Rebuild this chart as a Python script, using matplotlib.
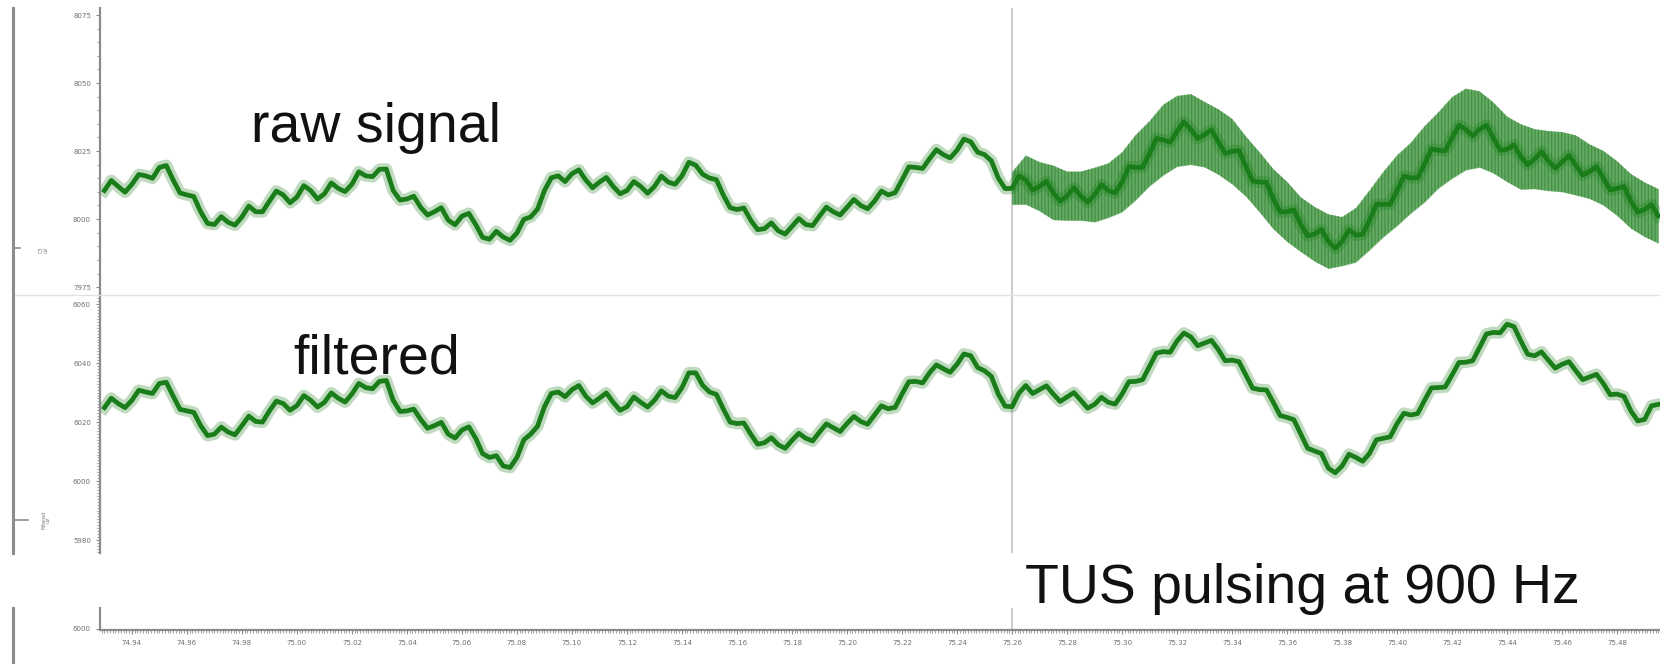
import numpy as np
import matplotlib.pyplot as plt
from matplotlib.lines import Line2D
from matplotlib.ticker import MultipleLocator, FormatStrFormatter

# ---------- Data ----------

t_start = 74.930   # s, first sample shown
t_step = 0.0025    # s between samples
t_onset = 75.26    # s, TUS onset marker

# raw trace (uV)
raw_uv = [8010.5, 8014.2, 8012.0, 8009.9, 8012.8, 8016.4, 8015.9, 8015.0, 8019.0, 8019.7,
          8014.4, 8009.6, 8008.9, 8008.3, 8002.7, 7998.4, 7998.0, 8000.9, 7998.8, 7997.8,
          8000.8, 8004.8, 8002.7, 8002.7, 8006.6, 8010.3, 8008.9, 8006.0, 8008.1, 8012.3,
          8010.5, 8007.4, 8009.3, 8013.3, 8011.3, 8010.1, 8012.8, 8017.4, 8015.9, 8015.6,
          8018.3, 8018.4, 8010.5, 8007.0, 8007.4, 8008.4, 8004.3, 8001.5, 8002.7, 8004.2,
          7999.6, 7997.9, 8001.1, 8002.1, 7998.0, 7993.3, 7992.6, 7995.5, 7993.4, 7992.2,
          7994.9, 7999.9, 8000.8, 8003.7, 8010.5, 8015.2, 8015.9, 8013.8, 8016.7, 8018.1,
          8014.4, 8011.5, 8013.6, 8015.3, 8012.0, 8009.3, 8010.5, 8013.8, 8012.0, 8009.5,
          8012.0, 8015.8, 8013.6, 8012.8, 8015.9, 8020.9, 8019.8, 8016.5, 8015.1, 8014.5,
          8008.9, 8004.2, 8003.5, 8004.1, 7999.6, 7996.1, 7996.5, 7998.6, 7995.7, 7994.5,
          7997.3, 8000.2, 7998.0, 7997.6, 8001.1, 8004.4, 8002.7, 8001.5, 8004.3, 8007.2,
          8005.0, 8003.8, 8006.6, 8010.3, 8008.9, 8009.7, 8014.4, 8019.2, 8019.0, 8018.6,
          8022.2, 8025.5, 8023.7, 8022.5, 8025.3, 8029.4, 8028.4, 8024.6, 8023.7, 8021.4,
          8015.1, 8011.2, 8011.3, 8015.9, 8014.4, 8010.7, 8012.0, 8013.9, 8009.7, 8006.6,
          8008.5, 8011.5, 8008.5, 8006.2, 8008.9, 8012.7, 8010.5, 8009.6, 8013.6, 8019.3,
          8019.0, 8019.1, 8024.1, 8029.6, 8029.1, 8028.2, 8032.3, 8035.7, 8033.0, 8029.6,
          8031.1, 8032.8, 8028.4, 8024.2, 8024.9, 8025.2, 8019.4, 8014.0, 8013.6, 8013.5,
          8007.4, 8002.6, 8002.7, 8003.4, 7998.0, 7993.8, 7994.5, 7996.2, 7991.8, 7989.3,
          7991.8, 7996.0, 7994.1, 7994.4, 7999.6, 8005.5, 8005.4, 8005.5, 8010.5, 8015.8,
          8015.1, 8015.2, 8020.2, 8025.8, 8025.3, 8025.1, 8029.9, 8034.5, 8033.0, 8030.5,
          8033.0, 8034.5, 8029.9, 8025.3, 8025.7, 8027.3, 8022.9, 8020.0, 8022.1, 8024.8,
          8021.4, 8018.7, 8021.0, 8023.4, 8019.8, 8016.2, 8017.5, 8019.3, 8015.1, 8010.7,
          8011.3, 8012.0, 8006.6, 8002.6, 8003.5, 8005.3, 8001.1]

# 900 Hz artefact envelope on the raw trace, every 5 ms from onset (uV)
band_step = 0.005
band_hi = [8017.3, 8023.4, 8021.0, 8019.7, 8017.5, 8017.5, 8018.9, 8020.5, 8024.6, 8031.0,
           8036.1, 8042.1, 8045.3, 8046.0, 8043.1, 8040.4, 8036.9, 8030.4, 8024.6, 8018.4,
           8013.7, 8008.0, 8004.5, 8001.8, 8000.8, 8004.1, 8010.6, 8017.4, 8023.5, 8028.1,
           8034.2, 8039.3, 8044.9, 8048.0, 8047.0, 8042.9, 8037.7, 8034.9, 8033.1, 8032.4,
           8032.0, 8030.8, 8027.5, 8025.1, 8021.3, 8016.6, 8013.5, 8011.1]
band_lo = [8005.3, 8005.4, 8003.0, 7999.7, 7999.5, 7999.5, 7998.9, 8000.5, 8002.6, 8007.0,
           8012.1, 8016.1, 8019.3, 8020.0, 8019.1, 8016.4, 8012.9, 8008.4, 8002.6, 7996.4,
           7991.7, 7988.0, 7984.5, 7981.8, 7982.8, 7984.1, 7988.6, 7993.4, 7997.5, 8002.1,
           8006.2, 8011.3, 8014.9, 8018.0, 8019.0, 8016.9, 8013.7, 8010.9, 8011.1, 8010.4,
           8010.0, 8008.8, 8007.5, 8005.1, 8001.3, 7996.6, 7993.5, 7991.1]

# filtered trace (uV)
filt_uv = [6024.9, 6028.1, 6026.3, 6024.9, 6027.4, 6030.8, 6030.2, 6029.7, 6033.1, 6033.5,
           6028.8, 6024.3, 6023.8, 6023.3, 6018.8, 6015.4, 6015.9, 6018.3, 6016.6, 6015.7,
           6018.8, 6022.0, 6020.2, 6020.0, 6023.8, 6027.1, 6026.3, 6024.0, 6025.6, 6029.0,
           6027.4, 6025.1, 6026.7, 6029.9, 6028.1, 6026.8, 6029.5, 6033.1, 6031.7, 6031.3,
           6033.8, 6034.1, 6027.4, 6023.6, 6023.8, 6024.4, 6020.9, 6017.9, 6018.8, 6019.9,
           6015.9, 6014.6, 6017.3, 6018.4, 6014.5, 6009.3, 6008.0, 6008.6, 6005.1, 6004.6,
           6008.0, 6014.0, 6015.9, 6018.6, 6025.2, 6029.7, 6030.2, 6028.6, 6031.0, 6032.4,
           6028.8, 6026.5, 6028.1, 6029.9, 6026.7, 6024.0, 6025.2, 6028.5, 6026.7, 6025.1,
           6027.4, 6030.6, 6028.8, 6028.3, 6031.7, 6036.7, 6036.7, 6032.5, 6030.2, 6029.4,
           6024.5, 6020.0, 6019.5, 6019.7, 6015.9, 6012.5, 6013.0, 6014.7, 6012.3, 6011.1,
           6013.8, 6016.2, 6014.5, 6013.6, 6016.6, 6019.4, 6018.1, 6016.8, 6019.5, 6021.9,
           6020.2, 6019.3, 6022.4, 6025.5, 6024.5, 6025.0, 6029.5, 6033.7, 6033.8, 6033.3,
           6036.7, 6039.4, 6038.1, 6036.9, 6039.6, 6043.1, 6042.5, 6038.5, 6037.4, 6035.5,
           6029.5, 6025.4, 6025.2, 6029.8, 6032.4, 6029.7, 6031.0, 6032.3, 6029.5, 6027.0,
           6028.5, 6030.0, 6027.4, 6024.7, 6026.0, 6028.4, 6026.7, 6026.1, 6029.5, 6033.7,
           6033.8, 6034.4, 6038.9, 6043.4, 6043.9, 6043.7, 6047.5, 6050.2, 6048.9, 6045.9,
           6046.8, 6047.7, 6044.6, 6040.8, 6041.0, 6040.5, 6036.0, 6031.5, 6031.0, 6030.9,
           6026.7, 6022.2, 6021.6, 6020.8, 6015.9, 6011.1, 6010.2, 6009.3, 6004.4, 6002.8,
           6005.1, 6009.1, 6008.0, 6006.7, 6009.4, 6014.0, 6014.5, 6015.0, 6019.5, 6023.0,
           6022.4, 6022.9, 6027.4, 6031.6, 6031.7, 6031.9, 6036.0, 6040.2, 6040.3, 6040.8,
           6045.3, 6049.9, 6050.4, 6050.3, 6053.2, 6052.4, 6047.5, 6043.0, 6042.5, 6043.8,
           6041.0, 6038.3, 6039.6, 6040.5, 6037.4, 6034.4, 6035.3, 6036.2, 6033.1, 6029.3,
           6029.5, 6028.7, 6023.8, 6020.4, 6020.9, 6025.5, 6026.0]

raw_ticks = [7975, 8000, 8025, 8050, 8075]
filt_ticks = [5980, 6000, 6020, 6040, 6060]

# ---------- Plot ----------

W, H = 1660, 664
green = '#197d19'
axis_grey = '#8c8c8c'
marker_grey = '#cfcfcf'

t = t_start + t_step*np.arange(len(raw_uv))
t_band = t_onset + band_step*np.arange(len(band_hi))
raw = np.array(raw_uv)
filt = np.array(filt_uv)

def px(x0, y0, x1, y1):  # pixel box -> figure fraction rect
    return [x0/W, 1 - y1/H, (x1 - x0)/W, (y1 - y0)/H]

fig = plt.figure(figsize=(W/100, H/100), dpi=100)
ax_raw = fig.add_axes(px(100, 8, W, 295))
ax_filt = fig.add_axes(px(100, 295, W, 553))
ax_time = fig.add_axes(px(100, 608, W, 630))

xlim = (74.9284, 75.4956)
for ax in (ax_raw, ax_filt, ax_time):
    ax.set_xlim(*xlim)
    for s in ax.spines.values():
        s.set_visible(False)
    ax.spines['left'].set_visible(True)
    ax.spines['left'].set_color(axis_grey)
    ax.spines['left'].set_linewidth(1.6)
    ax.tick_params(axis='both', colors=axis_grey, labelcolor='#6e6e6e', labelsize=5,
                   length=3, width=0.8)
    ax.tick_params(axis='x', bottom=False, labelbottom=False)
    ax.tick_params(which='minor', length=2, width=0.6, colors=axis_grey)
    ax.axvline(t_onset, color=marker_grey, lw=1.6, zorder=0)

# raw signal
ax_raw.set_ylim(7972.1, 8077.6)
ax_raw.set_yticks(raw_ticks)
ax_raw.yaxis.set_minor_locator(MultipleLocator(5))
ax_raw.fill_between(t_band, band_lo, band_hi, color='#3f9a3f', alpha=0.45, lw=0)
ax_raw.fill_between(t_band, band_lo, band_hi, color='#2a872a', alpha=0.5, lw=0,
                    hatch='|||||', edgecolor='#1f7a1f')
ax_raw.plot(t, raw, color=green, lw=8.5, alpha=0.28)
ax_raw.plot(t, raw, color=green, lw=3.4)

# filtered
ax_filt.set_ylim(5975.6, 6063.1)
ax_filt.set_yticks(filt_ticks)
ax_filt.yaxis.set_minor_locator(MultipleLocator(1))
ax_filt.plot(t, filt, color=green, lw=8.5, alpha=0.28)
ax_filt.plot(t, filt, color=green, lw=3.4)

# time axis
ax_time.set_ylim(5999.2, 6012)
ax_time.set_yticks([6000])
ax_time.spines['bottom'].set_visible(True)
ax_time.spines['bottom'].set_color(axis_grey)
ax_time.spines['bottom'].set_linewidth(1.6)
ax_time.xaxis.set_major_locator(MultipleLocator(0.02))
ax_time.xaxis.set_minor_locator(MultipleLocator(0.001))
ax_time.xaxis.set_major_formatter(FormatStrFormatter('%.2f'))
ax_time.tick_params(axis='x', bottom=True, labelbottom=True, pad=4)
ax_time.set_facecolor('none')

# frame lines around the panels
fig.add_artist(Line2D([13/W, 1], [1 - 295/H]*2, color='#e2e2e2', lw=1.0))
fig.add_artist(Line2D([13/W]*2, [1 - 8/H, 1 - 553/H], color=axis_grey, lw=2.2))
fig.add_artist(Line2D([13/W]*2, [1 - 608/H, 0], color=axis_grey, lw=2.2))
fig.add_artist(Line2D([13/W, 20/W], [1 - 248/H]*2, color=axis_grey, lw=1.2))
fig.add_artist(Line2D([13/W, 28/W], [1 - 520/H]*2, color=axis_grey, lw=1.2))
fig.text(44/W, 1 - 250/H, 'C3\nuV', rotation=90, fontsize=3.5, color='#777777',
         ha='center', va='center', linespacing=0.9)
fig.text(46/W, 1 - 520/H, 'Filtered\nuV', rotation=90, fontsize=3.5, color='#777777',
         ha='center', va='center', linespacing=0.9)

# annotations
label_font = dict(family=['Liberation Sans', 'DejaVu Sans'], fontsize=40, color='#111111')
fig.text(251/W, 1 - 142/H, 'raw signal', va='baseline', ha='left', **label_font)
fig.text(293/W, 1 - 373/H, 'filtered', va='baseline', ha='left', **label_font)
fig.text(1025/W, 1 - 603/H, 'TUS pulsing at 900 Hz', va='baseline', ha='left', **label_font)

fig.savefig('out.png', dpi=100, facecolor='white')
